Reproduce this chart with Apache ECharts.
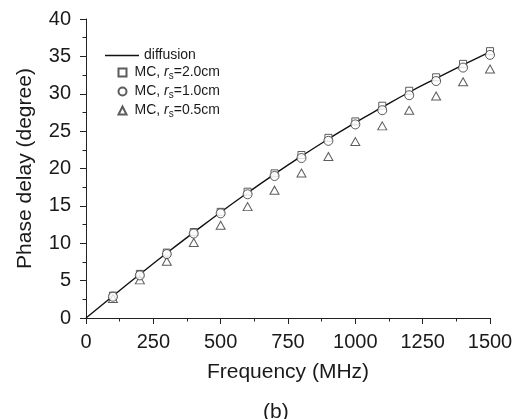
<!DOCTYPE html>
<html>
<head>
<meta charset="utf-8">
<script src="https://cdn.jsdelivr.net/npm/echarts@6/dist/echarts.min.js"></script>
<style>html,body{margin:0;padding:0;background:#fff}#c{width:521px;height:419px}</style>
</head>
<body>
<div id="c"></div>
<script>
var freqMC = [100, 200, 300, 400, 500, 600, 700, 800, 900, 1000, 1100, 1200, 1300, 1400, 1500];
var mcRs20 = [3.0, 5.9, 8.75, 11.5, 14.2, 16.9, 19.35, 21.8, 24.1, 26.3, 28.4, 30.4, 32.2, 34.0, 35.7];
var mcRs10 = [2.85, 5.7, 8.55, 11.3, 14.0, 16.55, 19.0, 21.4, 23.7, 25.9, 27.8, 29.8, 31.7, 33.5, 35.2];
var mcRs05 = [2.6, 5.1, 7.6, 10.1, 12.4, 14.9, 17.1, 19.4, 21.6, 23.6, 25.7, 27.8, 29.7, 31.6, 33.3];
var freqDiff = [0, 100, 200, 300, 400, 500, 600, 700, 800, 900, 1000, 1100, 1200, 1300, 1400, 1500];
var diffusion = [0, 2.95, 5.85, 8.7, 11.45, 14.15, 16.75, 19.25, 21.65, 23.95, 26.15, 28.2, 30.2, 32.05, 33.85, 35.6];
var xTicks = [0, 250, 500, 750, 1000, 1250, 1500];
var yTicks = [0, 5, 10, 15, 20, 25, 30, 35, 40];

function pairs(xs, ys) { return xs.map(function (x, i) { return [x, ys[i]]; }); }

var FONT = '"Liberation Sans", Arial, sans-serif';
var TXT = '#1a1a1a';
var MK = '#333';

var rich = {
  g: { width: 3, lineHeight: 17 },
  n: { fontSize: 14, fontFamily: FONT, color: TXT, lineHeight: 17 },
  i: { fontSize: 14, fontFamily: FONT, color: TXT, fontStyle: 'italic', lineHeight: 17 },
  s: { fontSize: 10, fontFamily: FONT, color: TXT, lineHeight: 17, padding: [7, 0, 0, 0] }
};

var chart = echarts.init(document.getElementById('c'), null, { renderer: 'canvas' });
chart.setOption({
  animation: false,
  backgroundColor: '#fff',
  grid: { left: 86, right: 31, top: 19, bottom: 101, containLabel: false },
  xAxis: {
    type: 'value', min: 0, max: 1500, interval: 250,
    name: 'Frequency (MHz)', nameLocation: 'middle', nameGap: 44,
    nameTextStyle: { fontSize: 21, fontFamily: FONT, color: TXT },
    axisLine: { show: true, onZero: false, lineStyle: { color: '#222', width: 1 } },
    axisTick: { show: true, inside: false, length: 6, lineStyle: { color: '#222' } },
    minorTick: { show: true, splitNumber: 2, length: 3.5, lineStyle: { color: '#222' } },
    axisLabel: { fontSize: 20, fontFamily: FONT, color: TXT, margin: 14,
      formatter: function (v) { return xTicks.indexOf(v) >= 0 ? String(v) : ''; } },
    splitLine: { show: false }
  },
  yAxis: {
    type: 'value', min: 0, max: 40, interval: 5,
    name: 'Phase delay (degree)', nameLocation: 'middle', nameGap: 50, nameRotate: 90,
    nameTextStyle: { fontSize: 21, fontFamily: FONT, color: TXT },
    axisLine: { show: true, onZero: false, lineStyle: { color: '#222', width: 1 } },
    axisTick: { show: true, inside: false, length: 6, lineStyle: { color: '#222' } },
    minorTick: { show: true, splitNumber: 2, length: 3.5, lineStyle: { color: '#222' } },
    axisLabel: { fontSize: 20, fontFamily: FONT, color: TXT, margin: 15,
      formatter: function (v) { return yTicks.indexOf(v) >= 0 ? String(v) : ''; } },
    splitLine: { show: false }
  },
  legend: [
    {
      data: [{ name: 'diffusion', icon: 'rect' }], left: 105, top: 47, orient: 'vertical', padding: 0,
      itemWidth: 34, itemHeight: 1.4, itemGap: 0, itemTextGap: 1,
      itemStyle: { color: '#111', borderWidth: 0 },
      textStyle: { fontSize: 14, fontFamily: FONT, color: TXT, lineHeight: 17 }
    },
    {
      data: ['MC2', 'MC1', 'MC05'], left: 117.5, top: 64, orient: 'vertical', padding: 0,
      itemWidth: 8, itemHeight: 8, itemGap: 2, itemTextGap: 7,
      textStyle: { fontSize: 14, fontFamily: FONT, color: TXT, rich: rich },
      formatter: function (name) {
        var v = name === 'MC2' ? '2.0' : (name === 'MC1' ? '1.0' : '0.5');
        return '{g|}{n|MC, }{i|r}{s|s}{n|=' + v + 'cm}';
      }
    }
  ],
  series: [
    {
      name: 'diffusion', type: 'line', data: pairs(freqDiff, diffusion),
      symbol: 'none', smooth: true, z: 1,
      lineStyle: { color: '#111', width: 1.4 }, itemStyle: { color: '#111' }
    },
    {
      name: 'MC2', type: 'scatter', data: pairs(freqMC, mcRs20),
      symbol: 'rect', symbolSize: 7, z: 2,
      itemStyle: { color: '#fff', borderColor: MK, borderWidth: 1 }
    },
    {
      name: 'MC05', type: 'scatter', data: pairs(freqMC, mcRs05),
      symbol: 'triangle', symbolSize: [9, 8], z: 3,
      itemStyle: { color: '#fff', borderColor: MK, borderWidth: 1 }
    },
    {
      name: 'MC1', type: 'scatter', data: pairs(freqMC, mcRs10),
      symbol: 'circle', symbolSize: 9, z: 4,
      itemStyle: { color: '#fff', borderColor: MK, borderWidth: 1 }
    }
  ],
  graphic: [
    { type: 'text', left: 263, top: 402,
      style: { text: '(b)', fontSize: 21, fontFamily: FONT, fill: TXT } }
  ]
});
</script>
</body>
</html>
